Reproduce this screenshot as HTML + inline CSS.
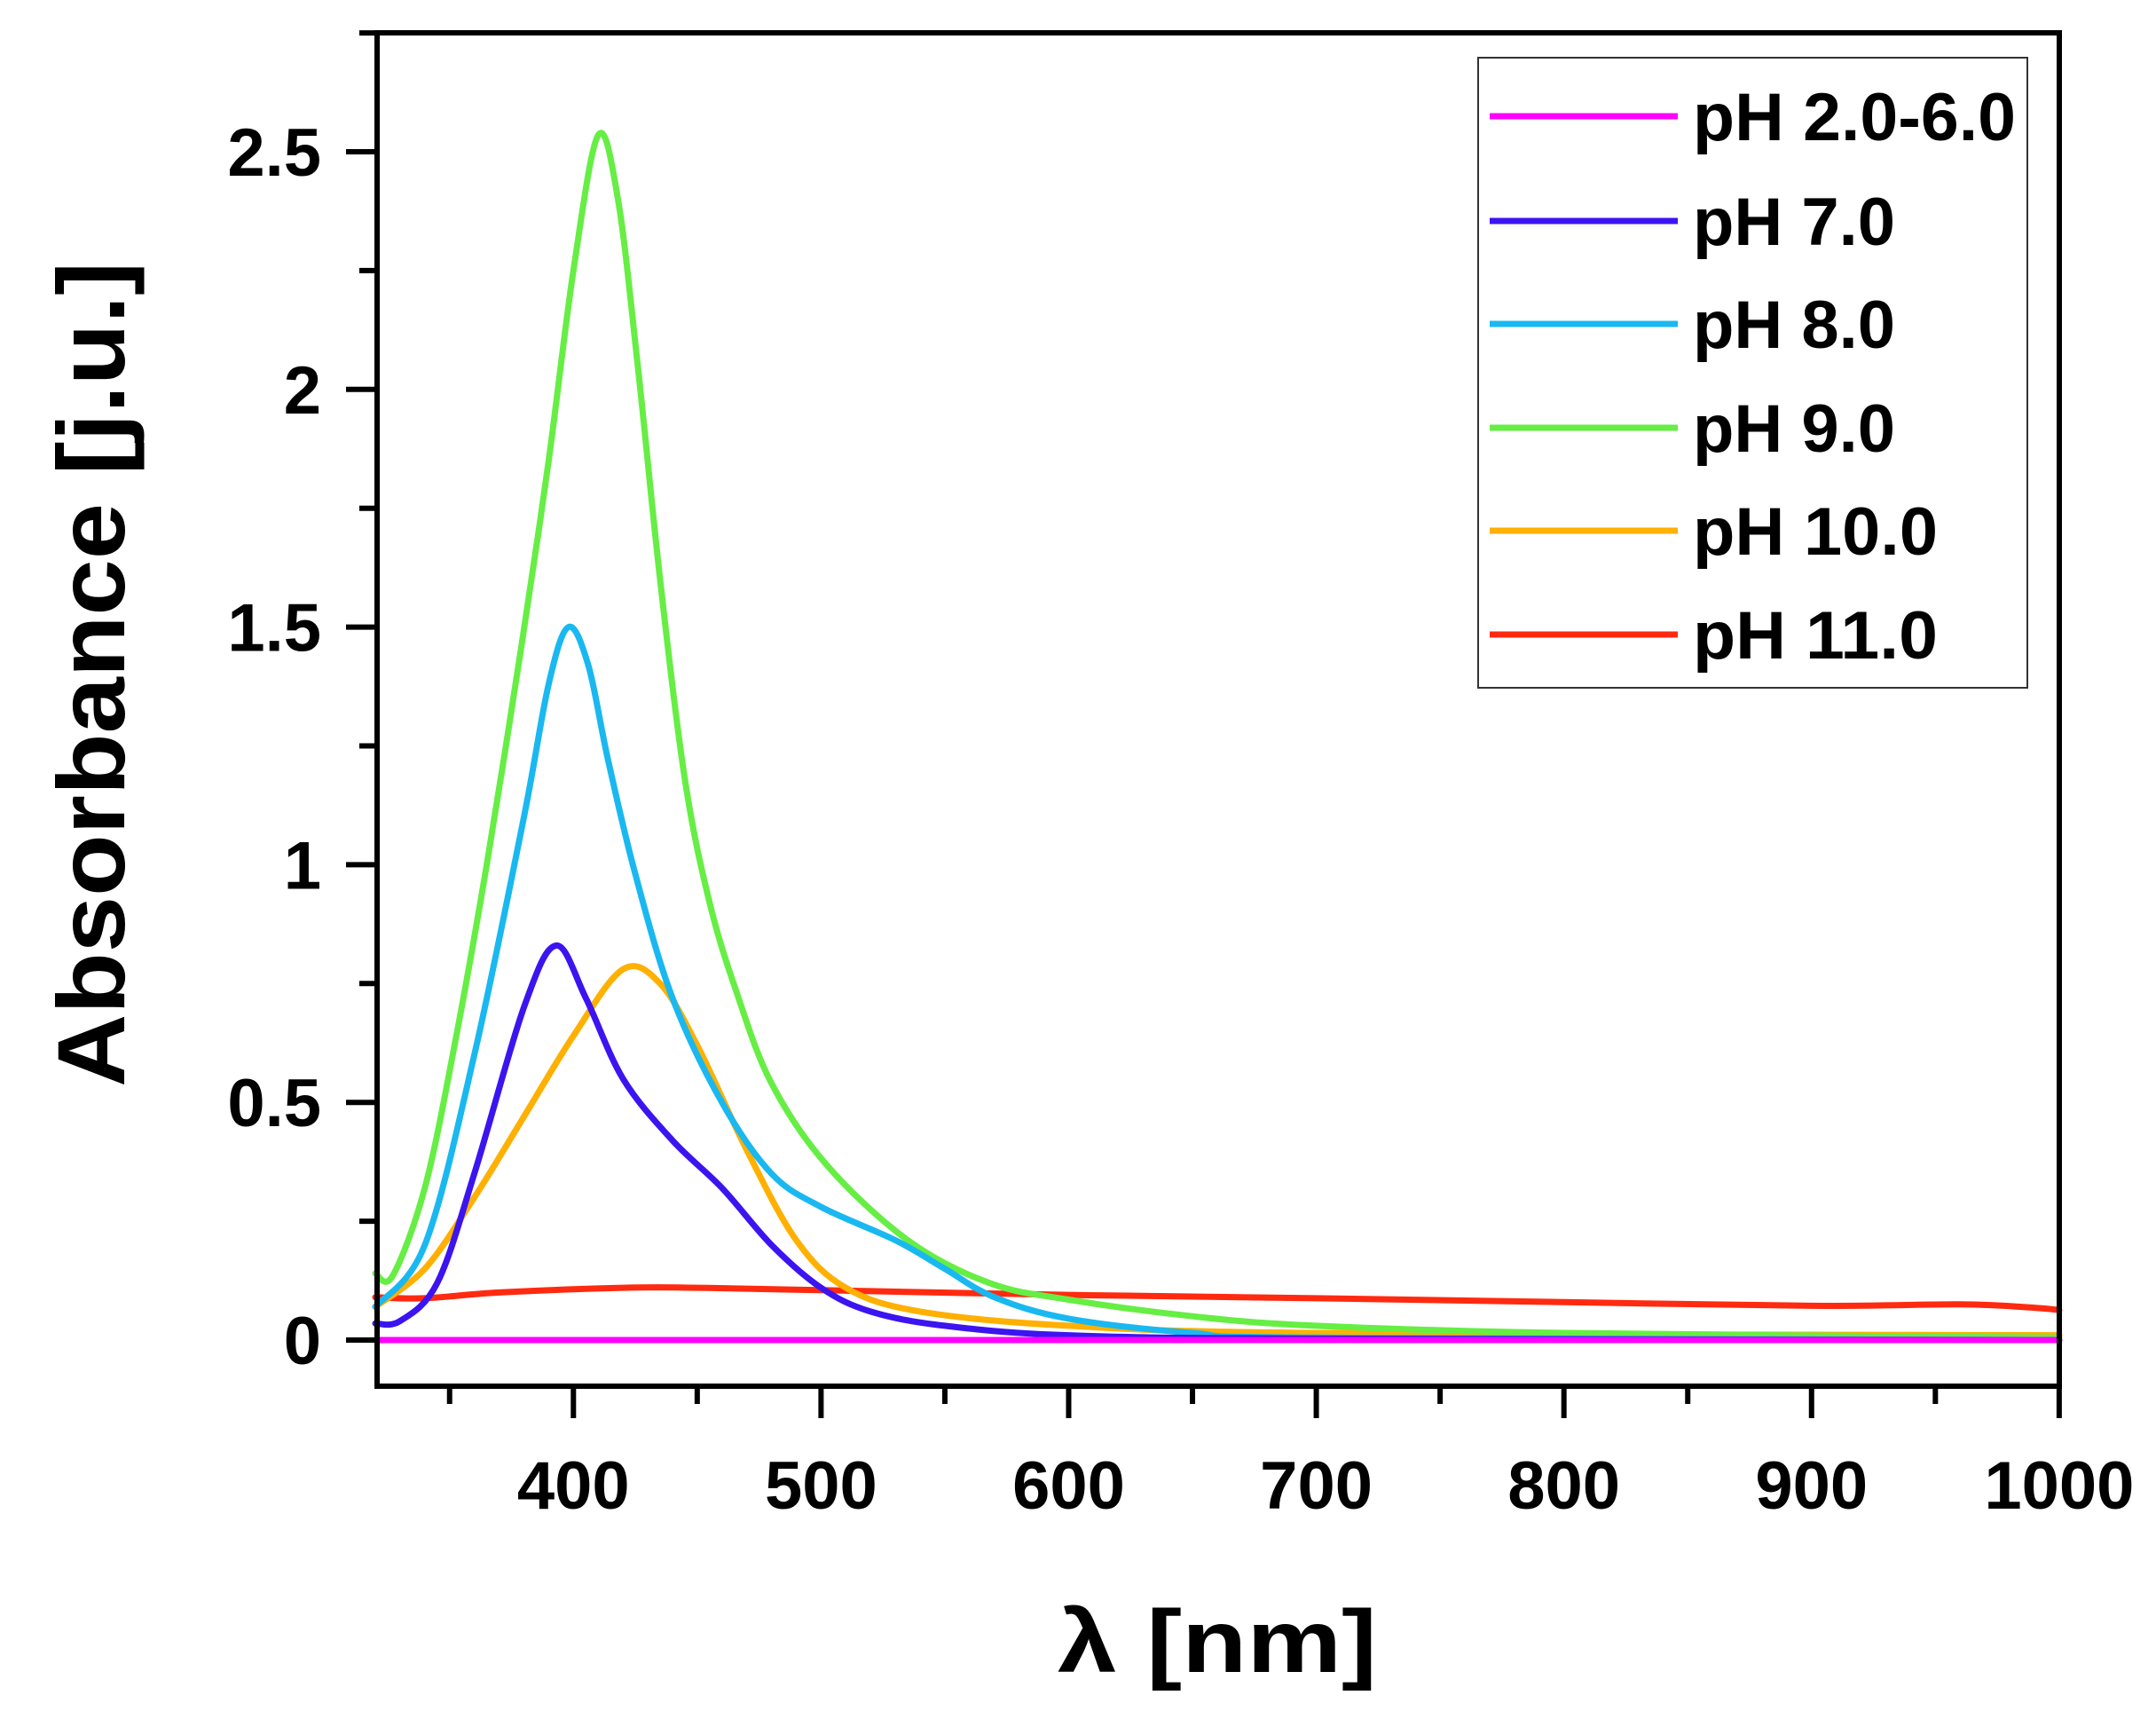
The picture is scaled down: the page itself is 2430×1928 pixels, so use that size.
<!DOCTYPE html>
<html><head><meta charset="utf-8"><style>
html,body{margin:0;padding:0;background:#fff;}
svg{display:block;}
text{font-family:"Liberation Sans",sans-serif;font-weight:bold;fill:#000;}
</style></head><body>
<svg id="s" width="2430" height="1928" viewBox="0 0 2430 1928" xmlns="http://www.w3.org/2000/svg">
<g id="curves" fill="none" stroke-width="7" stroke-linejoin="round" stroke-linecap="round"></g>
<rect x="425" y="37" width="1896" height="1525" fill="none" stroke="#000" stroke-width="6"/>
<g id="ticks" stroke="#000" stroke-width="6"></g>
<g id="labels" font-size="76"></g>
<text x="1372" y="1884" font-size="100" text-anchor="middle" textLength="360" lengthAdjust="spacingAndGlyphs">λ [nm]</text>
<text transform="translate(140,760) rotate(-90)" font-size="108" text-anchor="middle" textLength="930" lengthAdjust="spacingAndGlyphs">Absorbance [j.u.]</text>
<rect x="1666" y="65" width="619" height="710" fill="#fff" stroke="#333" stroke-width="2"/>
<g id="legend" font-size="76"></g>
</svg>
<script>
var X=function(n){return 423+(n-320)*2.791;};
var Y=function(a){return 1510-a*535.6;};
var ns="http://www.w3.org/2000/svg";
function el(p,t,a,txt){var e=document.createElementNS(ns,t);for(var k in a)e.setAttribute(k,a[k]);if(txt)e.textContent=txt;document.getElementById(p).appendChild(e);return e;}
function path(pts){
 var P=pts.map(function(p){return [X(p[0]),Y(p[1])];});
 var d="M"+P[0][0].toFixed(1)+","+P[0][1].toFixed(1);
 for(var i=0;i<P.length-1;i++){
  var p0=P[Math.max(0,i-1)],p1=P[i],p2=P[i+1],p3=P[Math.min(P.length-1,i+2)];
  var c1=[p1[0]+(p2[0]-p0[0])/6,p1[1]+(p2[1]-p0[1])/6];
  var c2=[p2[0]-(p3[0]-p1[0])/6,p2[1]-(p3[1]-p1[1])/6];
  d+="C"+c1[0].toFixed(1)+","+c1[1].toFixed(1)+" "+c2[0].toFixed(1)+","+c2[1].toFixed(1)+" "+p2[0].toFixed(1)+","+p2[1].toFixed(1);
 }
 return d;
}
var series=[
 ["#ff2a10",[[320,0.09],[340,0.088],[370,0.1],[420,0.11],[450,0.11],[500,0.105],[600,0.095],[700,0.088],[800,0.08],[900,0.072],[960,0.075],[990,0.068],[1000,0.063]]],
 ["#ffb000",[[320,0.07],[340,0.15],[360,0.3],[380,0.47],[400,0.64],[420,0.78],[435,0.75],[450,0.62],[470,0.4],[490,0.21],[510,0.11],[540,0.06],[600,0.03],[700,0.015],[1000,0.01]]],
 ["#66ee44",[[320,0.14],[327,0.135],[340,0.32],[352,0.62],[365,1.0],[379,1.46],[390,1.85],[400,2.25],[410,2.535],[418,2.4],[426,2.05],[435,1.6],[445,1.18],[455,0.92],[466,0.73],[480,0.54],[502,0.37],[535,0.21],[568,0.12],[600,0.085],[650,0.05],[700,0.03],[800,0.015],[1000,0.005]]],
 ["#1ab8f0",[[320,0.07],[340,0.2],[360,0.6],[380,1.1],[390,1.38],[398,1.5],[406,1.42],[414,1.22],[425,0.98],[440,0.72],[460,0.5],[480,0.35],[500,0.28],[530,0.21],[550,0.15],[570,0.09],[600,0.045],[650,0.015],[700,0.005],[1000,0.0]]],
 ["#3c14f0",[[320,0.035],[330,0.04],[345,0.12],[360,0.35],[380,0.7],[393,0.83],[405,0.72],[420,0.55],[440,0.42],[460,0.32],[480,0.2],[500,0.11],[520,0.06],[550,0.03],[600,0.01],[700,0.003],[1000,0.0]]],
 ["#ff00ff",[[320,0],[1000,0]]]
];
series.forEach(function(s){el("curves","path",{d:path(s[1]),stroke:s[0]});});
for(var i=0;i<=11;i++){var a=i*0.25,y=Y(a),maj=(i%2==0);el("ticks","line",{x1:maj?390:405,x2:425,y1:y,y2:y});
 if(maj){var t=(a==0?"0":(a%1==0?a.toFixed(0):a.toString()));el("labels","text",{x:362,y:y+27,"text-anchor":"end"},t);}}
for(var n=350;n<=1000;n+=50){var x=X(n),maj=(n%100==0);el("ticks","line",{x1:x,x2:x,y1:1562,y2:maj?1598:1582});
 if(maj)el("labels","text",{x:x,y:1700,"text-anchor":"middle"},String(n));}
var names=["pH 2.0-6.0","pH 7.0","pH 8.0","pH 9.0","pH 10.0","pH 11.0"];
var widths=[364,228,228,228,276,276];
var cols=["#ff00ff","#3c14f0","#1ab8f0","#66ee44","#ffb000","#ff2a10"];
var rows=[131,249,365,482,598,715];
for(var k=0;k<6;k++){el("legend","line",{x1:1679,x2:1891,y1:rows[k],y2:rows[k],stroke:cols[k],"stroke-width":7});
 el("legend","text",{x:1908,y:rows[k]+27,textLength:widths[k],lengthAdjust:"spacingAndGlyphs"},names[k]);}
</script>
</body></html>
